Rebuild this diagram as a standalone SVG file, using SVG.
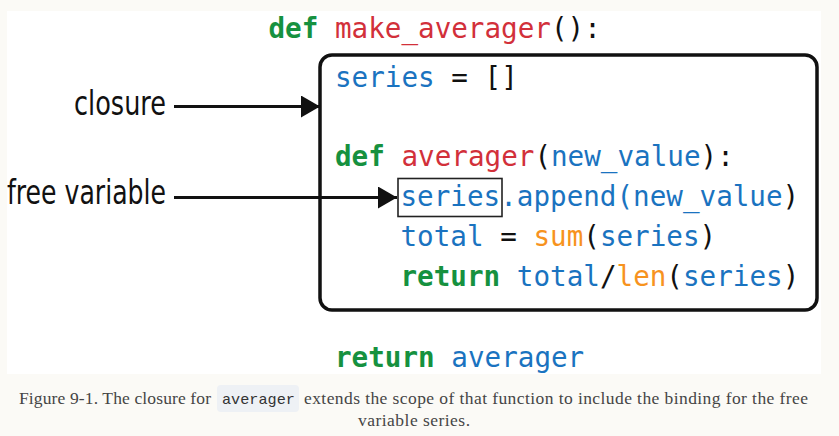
<svg xmlns="http://www.w3.org/2000/svg" width="839" height="436" viewBox="0 0 839 436">
<style>
.code{font-family:"DejaVu Sans Mono","Liberation Mono",monospace;font-size:27.6px;white-space:pre;fill:#111}
.kw{fill:#16913f;font-weight:bold}
.fn{fill:#d2303a}
.id{fill:#1a73c0}
.bi{fill:#f7931e}
.lbl{font-family:"Liberation Sans Narrow","DejaVu Sans Condensed","Liberation Sans",sans-serif;fill:#111}
.cap{font-family:"Liberation Serif","DejaVu Serif",serif;font-size:17.5px;fill:#454545}
.conn{stroke:#111;stroke-width:3;fill:none}
</style>
<defs>
<marker id="ah" markerWidth="20" markerHeight="22" refX="19" refY="11" orient="auto" markerUnits="userSpaceOnUse">
<polygon points="0,0 19,11 0,22" fill="#111"/>
</marker>
</defs>
<rect x="0" y="0" width="839" height="436" fill="#fbfaf6"/>
<rect x="7" y="11" width="814" height="363" fill="#ffffff"/>

<g id="scope">
<rect x="320" y="55" width="497" height="255" rx="12" fill="none" stroke="#111" stroke-width="3.5"/>
</g>

<g id="code">
<text class="code" x="268.5" y="38"><tspan class="kw">def</tspan> <tspan class="fn">make_averager</tspan>():</text>
<text class="code" x="335" y="87"><tspan class="id">series</tspan> = []</text>
<text class="code" x="335" y="166"><tspan class="kw">def</tspan> <tspan class="fn">averager</tspan>(<tspan class="id">new_value</tspan>):</text>
<text class="code" x="400.5" y="206"><tspan class="id">series.append(new_value</tspan>)</text>
<text class="code" x="400.5" y="246"><tspan class="id">total</tspan> = <tspan class="bi">sum</tspan>(<tspan class="id">series</tspan>)</text>
<text class="code" x="400.5" y="286"><tspan class="kw">return</tspan> <tspan class="id">total</tspan>/<tspan class="bi">len</tspan>(<tspan class="id">series</tspan>)</text>
<text class="code" x="335" y="367"><tspan class="kw">return</tspan> <tspan class="id">averager</tspan></text>
</g>

<g id="free-var-box">
<rect x="398" y="178.5" width="104" height="38" fill="none" stroke="#222" stroke-width="1.6"/>
</g>

<g id="closure-label">
<text class="lbl" x="74" y="115" font-size="33" textLength="92" lengthAdjust="spacingAndGlyphs">closure</text>
</g>
<g id="free-variable-label">
<text class="lbl" x="7" y="204" font-size="34" textLength="159" lengthAdjust="spacingAndGlyphs">free variable</text>
</g>

<g id="connectors">
<line class="conn" x1="174" y1="106.5" x2="320" y2="106.5" marker-end="url(#ah)"/>
<line class="conn" x1="174" y1="197.5" x2="397" y2="197.5" marker-end="url(#ah)"/>
</g>

<g id="caption">
<rect x="217" y="385" width="82" height="27" rx="4" fill="#eef1f5"/>
<text class="cap" x="19" y="404" textLength="192" lengthAdjust="spacing">Figure 9-1. The closure for</text>
<text x="222" y="404" font-family="Liberation Mono,monospace" font-size="15" fill="#333" textLength="73" lengthAdjust="spacingAndGlyphs">averager</text>
<text class="cap" x="304" y="404" textLength="504" lengthAdjust="spacing">extends the scope of that function to include the binding for the free</text>
<text class="cap" x="358" y="426" textLength="112" lengthAdjust="spacing">variable series.</text>
</g>
</svg>
